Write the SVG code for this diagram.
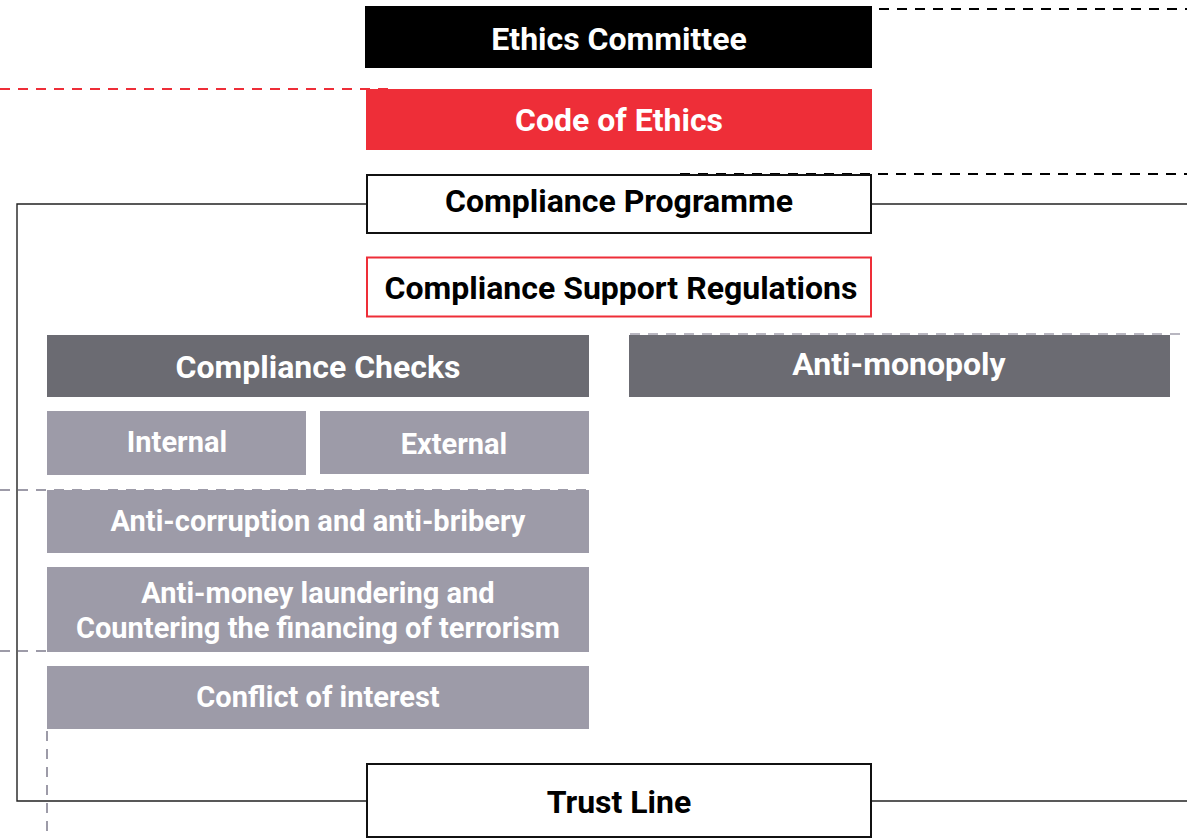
<svg xmlns="http://www.w3.org/2000/svg" width="1187" height="839" viewBox="0 0 1187 839">
<style>
text{font-family:Roboto,"Liberation Sans",sans-serif;font-weight:700;text-anchor:middle}
.t1{font-size:32px}
.t2{font-size:29px;fill:#fff}
.dark{fill:#6b6b72}
.light{fill:#9d9ba8}
.solid{fill:none;stroke:#222;stroke-width:1.4}
.dash{fill:none;stroke-width:2;stroke-dasharray:10 8}
</style>
<rect width="1187" height="839" fill="#fff"/>
<g id="connectors">
<path class="solid" d="M366 204H17V801H366"/>
<path class="solid" d="M872 204H1187"/>
<path class="solid" d="M872 801H1187"/>
<path class="dash" stroke="#000" d="M879 9H1187"/>
<path class="dash" stroke="#ee2e38" d="M0 89H388"/>
<path class="dash" stroke="#000" d="M680 174H1187"/>
<path class="dash" stroke="#b8b6c0" d="M630 334H1187"/>
<path class="dash" stroke="#9d9ba8" d="M0 490H589"/>
<path class="dash" stroke="#9d9ba8" d="M0 651H589"/>
<path class="dash" stroke="#9d9ba8" d="M47 731V839"/>
</g>
<g id="ethics-committee">
<rect x="365" y="6" width="507" height="62" fill="#000"/>
<text class="t1" x="619" y="50" fill="#fff">Ethics Committee</text>
</g>
<g id="code-of-ethics">
<rect x="366" y="89" width="506" height="61" fill="#ee2e38"/>
<text class="t1" x="619" y="131" fill="#fff">Code of Ethics</text>
</g>
<g id="compliance-programme">
<rect x="367" y="175" width="504" height="58" fill="#fff" stroke="#111" stroke-width="2"/>
<text class="t1" x="619" y="212" fill="#000">Compliance Programme</text>
</g>
<g id="compliance-support-regulations">
<rect x="367" y="257.5" width="504" height="59" fill="#fff" stroke="#ee2e38" stroke-width="2"/>
<text class="t1" x="621" y="299" fill="#000">Compliance Support Regulations</text>
</g>
<g id="compliance-checks">
<rect class="dark" x="47" y="335" width="542" height="62"/>
<text class="t1" x="318" y="378" fill="#fff">Compliance Checks</text>
</g>
<g id="anti-monopoly">
<rect class="dark" x="629" y="335" width="541" height="62"/>
<text class="t1" x="899" y="375" fill="#fff">Anti-monopoly</text>
</g>
<g id="internal">
<rect class="light" x="47" y="411" width="259" height="64"/>
<text class="t2" x="177" y="452">Internal</text>
</g>
<g id="external">
<rect class="light" x="320" y="411" width="269" height="63"/>
<text class="t2" x="454" y="454">External</text>
</g>
<g id="anti-corruption">
<rect class="light" x="47" y="490" width="542" height="63"/>
<text class="t2" x="318" y="531">Anti-corruption and anti-bribery</text>
</g>
<g id="anti-money-laundering">
<rect class="light" x="47" y="567" width="542" height="85"/>
<text class="t2" x="318" y="603">Anti-money laundering and</text>
<text class="t2" x="318" y="638">Countering the financing of terrorism</text>
</g>
<g id="conflict-of-interest">
<rect class="light" x="47" y="666" width="542" height="63"/>
<text class="t2" x="318" y="707">Conflict of interest</text>
</g>
<g id="trust-line">
<rect x="367" y="764" width="504" height="73" fill="#fff" stroke="#111" stroke-width="2"/>
<text class="t1" x="619" y="813" fill="#000">Trust Line</text>
</g>
</svg>
